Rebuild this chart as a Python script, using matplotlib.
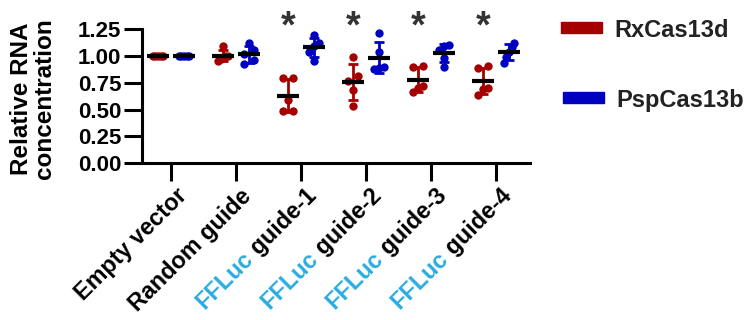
import numpy as np
import matplotlib.pyplot as plt
from matplotlib.patches import Rectangle
from matplotlib.transforms import offset_copy

plt.rcParams['font.family'] = ['Liberation Sans', 'DejaVu Sans']
plt.rcParams['font.weight'] = 'bold'

# data
prefixes = ['', '', 'FFLuc', 'FFLuc', 'FFLuc', 'FFLuc']
suffixes = ['Empty vector', 'Random guide', ' guide-1', ' guide-2', ' guide-3', ' guide-4']
rx_values = [
    [1.00, 1.00, 1.00, 1.00, 1.00],
    [1.09, 1.00, 1.00, 0.95, 0.97],
    [0.79, 0.79, 0.59, 0.49, 0.49],
    [0.99, 0.81, 0.77, 0.68, 0.53],
    [0.91, 0.90, 0.72, 0.70, 0.66],
    [0.89, 0.91, 0.70, 0.69, 0.64],
]
psp_values = [
    [1.00, 1.00, 1.00, 1.00, 1.00],
    [1.12, 1.05, 1.02, 0.96, 0.92],
    [1.19, 1.12, 1.09, 1.04, 0.95],
    [1.21, 1.04, 0.90, 0.88, 0.89],
    [1.10, 1.09, 1.05, 0.98, 0.90],
    [1.12, 1.08, 1.04, 0.99, 0.93],
]
significant = [False, False, True, True, True, True]
series_names = ['RxCas13d', 'PspCas13b']

RED = '#a40000'
BLUE = '#0000c0'
FFLUC = '#29abe2'


def swarm_offsets(vals, step=0.14, limit=0.08, tol=0.06):
    vals = np.asarray(vals)
    order = np.argsort(vals)
    offs = np.zeros(len(vals))
    clusters = []
    cur = [order[0]]
    for k in order[1:]:
        if vals[k] - vals[cur[-1]] <= tol:
            cur.append(k)
        else:
            clusters.append(cur)
            cur = [k]
    clusters.append(cur)
    for c in clusters:
        if len(c) > 1:
            half = min((len(c) - 1) / 2 * step, limit)
            for k, p in zip(c, np.linspace(-half, half, len(c))):
                offs[k] = p
    return offs


fig = plt.figure(figsize=(7.48, 3.2), dpi=100)
ax = fig.add_axes([142 / 748, 156.7 / 320, 388 / 748, 134.3 / 320])

for series, color, shift in [(rx_values, RED, -0.2), (psp_values, BLUE, 0.2)]:
    for i, vals in enumerate(series):
        x = i + shift
        offs = swarm_offsets(vals)
        ax.scatter(x + offs, vals, s=36, color=color, linewidths=0, zorder=3, clip_on=False)
        m = np.mean(vals)
        sd = np.std(vals, ddof=1)
        if sd > 0:
            ax.errorbar(x, m, yerr=sd, fmt='none', ecolor=color, elinewidth=2,
                        capsize=3.5, capthick=2, zorder=2, clip_on=False)
        ax.hlines(m, x - 0.175, x + 0.175, color='black', lw=3, zorder=4)

for i, sig in enumerate(significant):
    if sig:
        ax.text(i - 0.2, 1.17, '*', fontsize=27, color='#333333', ha='center',
                va='baseline', clip_on=False)

ax.set_xlim(-0.446, 5.523)
ax.set_ylim(0, 1.25)
ax.set_yticks(np.arange(0, 1.26, 0.25))
ax.set_yticklabels(['%.2f' % v for v in np.arange(0, 1.26, 0.25)], fontsize=16)
ax.set_xticks(range(len(suffixes)))
ax.set_xticklabels([])
for s in ['top', 'right']:
    ax.spines[s].set_visible(False)
for s in ['left', 'bottom']:
    ax.spines[s].set_linewidth(2.2)
ax.tick_params(length=13, width=2.2, pad=2, color='black')

# x labels, rotated, with two colours
fig.canvas.draw()
renderer = fig.canvas.get_renderer()
lab_size = 16.8
for i, (pre, suf) in enumerate(zip(prefixes, suffixes)):
    tr = offset_copy(ax.get_xaxis_transform(), fig=fig, x=4, y=-21, units='dots')
    ax.text(i, 0, suf, transform=tr, rotation=45, rotation_mode='anchor',
            ha='right', va='top', fontsize=lab_size, color='black', clip_on=False)
    if pre:
        tmp = fig.text(0, 0, suf, fontsize=lab_size)
        w = tmp.get_window_extent(renderer).width
        tmp.remove()
        d = w / np.sqrt(2)
        tr2 = offset_copy(ax.get_xaxis_transform(), fig=fig, x=4 - d, y=-21 - d, units='dots')
        ax.text(i, 0, pre, transform=tr2, rotation=45, rotation_mode='anchor',
                ha='right', va='top', fontsize=lab_size, color=FFLUC, clip_on=False)

fig.text(33 / 748, 1 - 99 / 320, 'Relative RNA\nconcentration', rotation=90,
         ha='center', va='center', fontsize=17.5, linespacing=0.95)

# legend
fig.patches.append(Rectangle((561 / 748, 1 - 33 / 320), 41 / 748, 11 / 320,
                             transform=fig.transFigure, color=RED))
fig.patches.append(Rectangle((563 / 748, 1 - 103 / 320), 41 / 748, 11 / 320,
                             transform=fig.transFigure, color=BLUE))
fig.text(614 / 748, 1 - 28 / 320, series_names[0], fontsize=17, color='#222222',
         ha='left', va='center_baseline')
fig.text(616 / 748, 1 - 98 / 320, series_names[1], fontsize=17, color='#222222',
         ha='left', va='center_baseline')

fig.savefig('out.png', dpi=100)
